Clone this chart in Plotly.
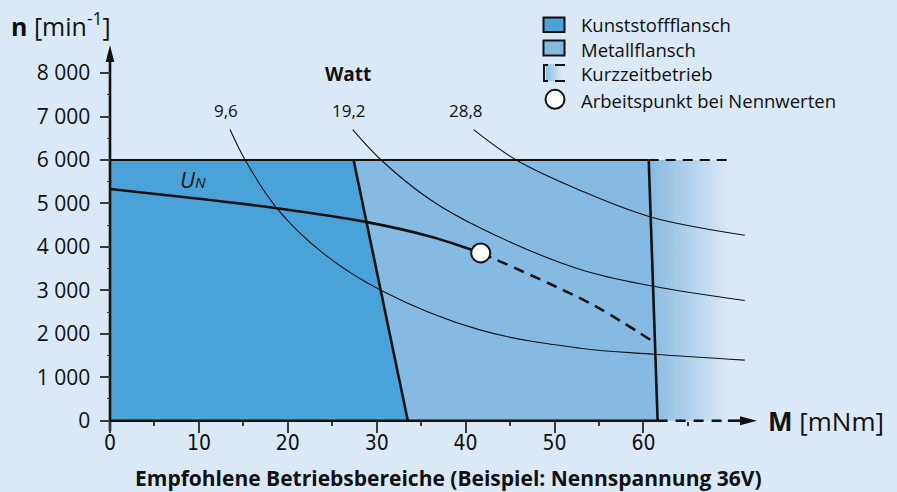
import plotly.graph_objects as go

# ---------------- data ----------------
x_tick_vals = [0, 10, 20, 30, 40, 50, 60]
x_tick_text = ["0", "10", "20", "30", "40", "50", "60"]
x_minor_vals = [5, 15, 25, 35, 45, 55, 65]
y_tick_vals = [0, 1000, 2000, 3000, 4000, 5000, 6000, 7000, 8000]
y_tick_text = ["0", "1 000", "2 000", "3 000", "4 000", "5 000", "6 000", "7 000", "8 000"]
y_minor_vals = [500, 1500, 2500, 3500, 4500, 5500, 6500, 7500]

# operating regions (M in mNm, n in 1/min)
plastic_M = [0, 0, 27.4, 33.5]
plastic_n = [0, 6000, 6000, 0]
metal_M = [27.4, 60.6, 61.6, 33.5]
metal_n = [6000, 6000, 0, 0]
short_M = [60.6, 69.5, 69.5, 61.6]
short_n = [6000, 6000, 0, 0]

# constant power curves (Watt)
p96_M = [13.5, 15.2, 18.75, 24.0, 30.4, 41.6, 52.9, 61.2, 71.4]
p96_n = [6700, 6000, 4894, 3850, 3010, 2090, 1668, 1530, 1395]
p192_M = [27.3, 30.5, 36.0, 41.6, 52.9, 61.0, 71.4]
p192_n = [6700, 6000, 5090, 4440, 3480, 3100, 2765]
p288_M = [40.9, 45.7, 52.9, 60.8, 71.4]
p288_n = [6700, 6000, 5300, 4690, 4270]
power_labels = ["9,6", "19,2", "28,8"]

# characteristic curve at nominal voltage
un_M = [0, 10, 18.75, 28.9, 36, 41.7]
un_n = [5334, 5110, 4890, 4570, 4240, 3862]
un_short_M = [41.7, 50, 55, 61.1]
un_short_n = [3862, 3100, 2590, 1820]
op_M = [41.7]
op_n = [3862]

legend_labels = ["Kunststoffflansch", "Metallflansch", "Kurzzeitbetrieb",
                 "Arbeitspunkt bei Nennwerten"]

# ---------------- styling / layout ----------------
BG = "#dbe8f5"
PLASTIC_C = "#4aa3d8"
METAL_C = "#85bae2"
INK = "#111111"
TICK_C = "#3a3a3a"
FONT = "Open Sans, Noto Sans, sans-serif"
COND = "DejaVu Sans Condensed, Liberation Sans Narrow, sans-serif"

W, H = 897, 492
X0_PX, PX_PER_M = 110.0, 8.89
Y0_PX, PX_PER_N = 420.7, 0.04345


def mx(px):
    return (px - X0_PX) / PX_PER_M


def ny(py):
    return (Y0_PX - py) / PX_PER_N


def ppx(px):
    return px / W


def ppy(py):
    return 1 - py / H


fig = go.Figure()

# short-time operation (gradient)
fig.add_trace(go.Scatter(
    x=short_M, y=short_n, fill="toself", mode="lines", line=dict(width=0),
    fillgradient=dict(type="horizontal", colorscale=[[0, METAL_C], [1, BG]],
                      start=short_M[0], stop=short_M[1]),
    hoverinfo="skip"))
# metal flange
fig.add_trace(go.Scatter(x=metal_M, y=metal_n, fill="toself", mode="lines",
                         line=dict(width=0), fillcolor=METAL_C, hoverinfo="skip"))
# plastic flange
fig.add_trace(go.Scatter(x=plastic_M, y=plastic_n, fill="toself", mode="lines",
                         line=dict(width=0), fillcolor=PLASTIC_C, hoverinfo="skip"))

# power curves
for pm, pn in [(p96_M, p96_n), (p192_M, p192_n), (p288_M, p288_n)]:
    fig.add_trace(go.Scatter(x=pm, y=pn, mode="lines",
                             line=dict(color=INK, width=1.1, shape="spline", smoothing=1.0),
                             hoverinfo="skip"))

# region borders
fig.add_trace(go.Scatter(x=[0, metal_M[1]], y=[6000, 6000], mode="lines",
                         line=dict(color=INK, width=2.2)))
fig.add_trace(go.Scatter(x=[metal_M[1], short_M[1]], y=[6000, 6000], mode="lines",
                         line=dict(color=INK, width=2.2, dash="10px,7px")))
fig.add_trace(go.Scatter(x=[plastic_M[2], plastic_M[3]], y=[6000, 0], mode="lines",
                         line=dict(color=INK, width=2.6)))
fig.add_trace(go.Scatter(x=[metal_M[1], metal_M[2]], y=[6000, 0], mode="lines",
                         line=dict(color=INK, width=2.6)))

# U_N curve
fig.add_trace(go.Scatter(x=un_M, y=un_n, mode="lines",
                         line=dict(color=INK, width=2.6, shape="spline")))
fig.add_trace(go.Scatter(x=un_short_M, y=un_short_n, mode="lines",
                         line=dict(color=INK, width=2.6, shape="spline", dash="11px,7px")))

# axes lines + arrows
x_tip, y_tip = mx(757), ny(45)
fig.add_trace(go.Scatter(x=[0, metal_M[2]], y=[0, 0], mode="lines",
                         line=dict(color=INK, width=2.6)))
fig.add_trace(go.Scatter(x=[metal_M[2], short_M[1]], y=[0, 0], mode="lines",
                         line=dict(color=INK, width=2.6, dash="10px,8px")))
fig.add_trace(go.Scatter(x=[short_M[1], mx(742)], y=[0, 0], mode="lines",
                         line=dict(color=INK, width=2.6)))
fig.add_trace(go.Scatter(x=[mx(740), x_tip, mx(740)],
                         y=[4.5 / PX_PER_N, 0, -4.5 / PX_PER_N],
                         fill="toself", mode="lines", line=dict(width=0), fillcolor=INK))
fig.add_trace(go.Scatter(x=[0, 0], y=[ny(431), ny(60)], mode="lines",
                         line=dict(color=INK, width=2.6)))
fig.add_trace(go.Scatter(x=[-4.3 / PX_PER_M, 0, 4.3 / PX_PER_M],
                         y=[ny(62), y_tip, ny(62)],
                         fill="toself", mode="lines", line=dict(width=0), fillcolor=INK))

# operating point
fig.add_trace(go.Scatter(x=op_M, y=op_n, mode="markers",
                         marker=dict(size=19, color="white", line=dict(color=INK, width=2)),
                         cliponaxis=False))

# legend: gradient swatch
fig.add_trace(go.Scatter(
    x=[mx(546), mx(561), mx(561), mx(546)], y=[ny(64), ny(64), ny(81), ny(81)],
    fill="toself", mode="lines", line=dict(width=0),
    fillgradient=dict(type="horizontal", colorscale=[[0, METAL_C], [1, BG]],
                      start=mx(545), stop=mx(562)),
    hoverinfo="skip"))

shapes = []
# legend squares
for (y0, y1, col) in [(17.5, 32.0, PLASTIC_C), (40.5, 55.5, METAL_C)]:
    shapes.append(dict(type="rect", xref="paper", yref="paper",
                       x0=ppx(543.5), x1=ppx(564.5), y0=ppy(y1), y1=ppy(y0),
                       fillcolor=col, line=dict(color=INK, width=2)))
# legend bracket + dashes
seg = [((544, 64.5), (544, 81)), ((543, 65), (548, 65)), ((543, 81), (548, 81)),
       ((555, 65), (565, 65)), ((555, 81), (565, 81))]
for (a, b) in seg:
    shapes.append(dict(type="line", xref="paper", yref="paper",
                       x0=ppx(a[0]), y0=ppy(a[1]), x1=ppx(b[0]), y1=ppy(b[1]),
                       line=dict(color=INK, width=2)))
# legend circle
shapes.append(dict(type="circle", xref="paper", yref="paper",
                   x0=ppx(545.5), x1=ppx(564.5), y0=ppy(108.8), y1=ppy(89.8),
                   fillcolor="white", line=dict(color=INK, width=2)))

ann = []


def text(px, py, s, size, anchor="center", font=FONT, bold=False):
    if bold:
        s = "<b>" + s + "</b>"
    ann.append(dict(x=ppx(px), y=ppy(py), xref="paper", yref="paper", text=s,
                    showarrow=False, xanchor=anchor, yanchor="middle",
                    font=dict(family=font, size=size, color=INK)))


for i, lab in enumerate(legend_labels):
    text(579, [25, 49, 73.5, 100][i], lab, 18.5, anchor="left")

text(348, 74, "Watt", 19, bold=True)
for lab, cx in zip(power_labels, [226, 349, 465.5]):
    text(cx, 110, lab, 17)

text(9, 24, "<b>n</b> [min<sup>-1</sup>]", 25, anchor="left")
text(766, 421, "<b>M</b> [mNm]", 26, anchor="left")
text(193, 179, "<i>U<span style='font-size:15px'>N</span></i>", 22)
text(448, 478, "Empfohlene Betriebsbereiche (Beispiel: Nennspannung 36V)", 21, bold=True)

fig.update_layout(
    width=W, height=H, margin=dict(l=0, r=0, t=0, b=0),
    paper_bgcolor=BG, plot_bgcolor=BG, showlegend=False,
    shapes=shapes, annotations=ann,
    xaxis=dict(range=[mx(0), mx(W)], domain=[0, 1], anchor="free",
               position=(H - Y0_PX) / H, showgrid=False, zeroline=False,
               showline=False, tickvals=x_tick_vals, ticktext=x_tick_text,
               ticks="outside", ticklen=11, tickwidth=1.8, tickcolor=TICK_C,
               ticklabelstandoff=-8,
               minor=dict(tickvals=x_minor_vals, ticks="outside", ticklen=4,
                          tickwidth=1.5, tickcolor=TICK_C, showgrid=False),
               tickfont=dict(family=COND, size=21, color=INK), fixedrange=True),
    yaxis=dict(range=[ny(H), ny(0)], domain=[0, 1], anchor="free",
               position=X0_PX / W, showgrid=False, zeroline=False,
               showline=False, tickvals=y_tick_vals,
               ticktext=[t + "\u00a0" for t in y_tick_text],
               ticks="outside", ticklen=10, tickwidth=1.6, tickcolor=TICK_C,
               minor=dict(tickvals=y_minor_vals, ticks="outside", ticklen=3,
                          tickwidth=1.3, tickcolor=TICK_C, showgrid=False),
               tickfont=dict(family=FONT, size=21, color=INK), fixedrange=True),
)

fig.write_html("out.html", config={"displayModeBar": False},
               post_script="document.body.style.margin='0px';")
